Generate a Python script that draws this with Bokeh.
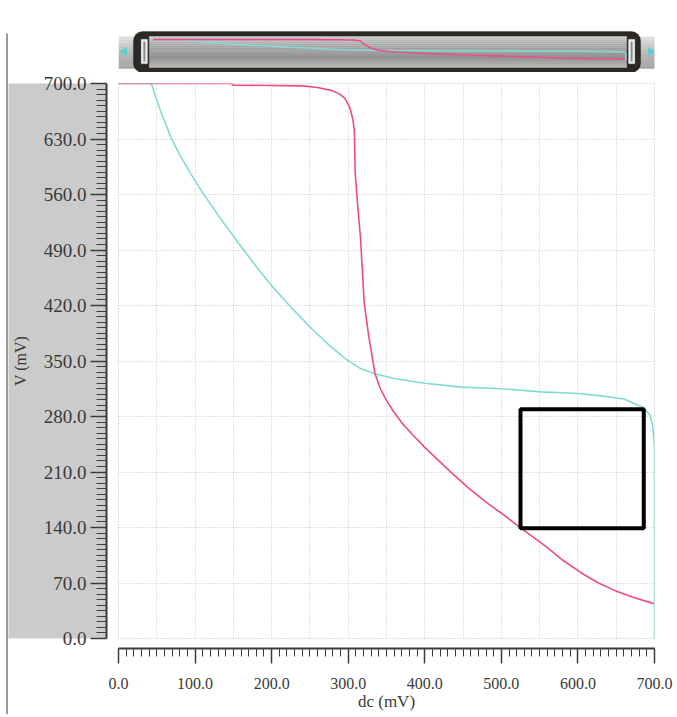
import math
from bokeh.plotting import figure
from bokeh.layouts import column, row
from bokeh.models import (Range1d, LinearAxis, SingleIntervalTicker, FixedTicker,
                          PrintfTickFormatter, BoxAnnotation)
from bokeh.embed import file_html
from bokeh.resources import INLINE

# ---------------- data (mV) ----------------
pink_x = [0, 147, 150, 240, 260, 279, 290, 296, 302, 306, 308, 309, 312, 316, 321, 327,
          335, 342, 350, 360, 370, 385, 400, 413, 435, 457, 480, 500, 526, 561, 580, 604,
          625, 647, 672, 699]
pink_y = [700, 700, 698, 697, 695, 691, 686, 681, 670, 655, 641, 590, 550, 506, 422, 380,
          334, 315, 300, 285, 272, 256, 241, 229, 209, 190, 172, 158, 139, 114, 99, 83,
          71, 61, 52, 44]

cyan_x = [0, 43, 48, 55, 62, 68, 80, 95, 110, 130, 149, 162, 180, 201, 227, 253, 275, 296,
          315, 335, 360, 400, 448, 500, 552, 600, 630, 660, 686, 694, 697, 699, 700, 700]
cyan_y = [700, 700, 685, 665, 648, 633, 610, 585, 562, 534, 509, 492, 469, 444, 416, 390,
          370, 353, 341, 334, 328, 322, 317, 315, 311, 309, 306, 302, 291, 282, 271, 255, 241, 0]

box_left = [525]
box_right = [686]
box_bottom = [139]
box_top = [289]

x_label = "dc (mV)"
y_label = "V (mV)"

PINK = "#ef4a8c"
CYAN = "#80dcd3"
GRAY = "#cbcbcb"
TXT = "#3a3a3a"
FONT = "Liberation Serif"

NAV_H = 72
MAIN_H = 642

# ---------------- left border strip ----------------
strip = figure(width=8, height=NAV_H + MAIN_H, x_range=Range1d(0, 8),
               y_range=Range1d(NAV_H + MAIN_H, 0),
               x_axis_location=None, y_axis_location=None, toolbar_location=None,
               output_backend="svg", min_border=0)
strip.grid.visible = False
strip.outline_line_color = None
strip.quad(left=[5.5], right=[7.5], top=[33], bottom=[NAV_H + MAIN_H],
           fill_color="#9a9a9a", line_color=None)

# ---------------- navigator ----------------
# its frame lines up with the main frame (115..654 px of the page)
nav = figure(width=669, height=NAV_H, x_range=Range1d(115, 654), y_range=Range1d(0, NAV_H),
             x_axis_location=None, y_axis_location=None, toolbar_location=None,
             output_backend="svg", min_border=0)
nav.grid.visible = False
nav.outline_line_color = None


def T(t):
    return NAV_H - t


def hexmix(c1, c2, f):
    a = [int(c1[i:i + 2], 16) for i in (1, 3, 5)]
    b = [int(c2[i:i + 2], 16) for i in (1, 3, 5)]
    return "#%02x%02x%02x" % tuple(round(a[k] + (b[k] - a[k]) * f) for k in range(3))


def pick(stops, f):
    for j in range(len(stops) - 1):
        p0, c0 = stops[j]
        p1, c1 = stops[j + 1]
        if p0 <= f <= p1:
            return hexmix(c0, c1, (f - p0) / (p1 - p0))
    return stops[-1][1]


def gradient(left, right, t0, t1, stops, n=16, annot=False):
    h = (t1 - t0) / n
    for i in range(n):
        col = pick(stops, (i + 0.5) / n)
        if annot:
            nav.add_layout(BoxAnnotation(left=left, right=right, top=T(t0 + i * h),
                                         bottom=T(t0 + (i + 1) * h) - 0.3,
                                         fill_color=col, fill_alpha=1, line_color=None,
                                         level="underlay"))
        else:
            nav.quad(left=[left], right=[right], top=[T(t0 + i * h)],
                     bottom=[T(t0 + (i + 1) * h)], fill_color=col, line_color=col,
                     line_width=0.5)


# outer light band (under the dark bar)
gradient(115, 660, 36, 68, [(0, "#e2e2e2"), (0.5, "#bababa"), (1, "#a4a4a4")], n=10, annot=True)
# dark rounded bar
nav.add_layout(BoxAnnotation(left=130, right=640, bottom=T(72), top=T(31),
                             fill_color="#2c2823", fill_alpha=1, line_color="#1e1b18",
                             border_radius=9, level="underlay"))
# inner cylinder
gradient(146, 626, 36, 67, [(0, "#d2d2d2"), (0.3, "#b4b4b4"), (0.65, "#939393"), (1, "#bdbdbd")])
# handles
for l, r in ((137, 145), (627, 635)):
    nav.quad(left=[l], right=[r], top=[T(38)], bottom=[T(64)], fill_color="#eeeeee",
             line_color="#333333", line_width=1.5)
    nav.quad(left=[l + 3], right=[r - 3], top=[T(41)], bottom=[T(61)], fill_color="#8a8a8a",
             line_color=None)
nav.scatter(x=[121], y=[T(51)], marker="triangle", angle=math.pi / 2, size=9,
            fill_color="#5fcfcf", line_color=None)
nav.scatter(x=[650], y=[T(51)], marker="triangle", angle=-math.pi / 2, size=9,
            fill_color="#5fcfcf", line_color=None)
# miniature curves: data 0..700 mV -> x 150..625 px, y 60..39 px from the top
nav.extra_x_ranges = {"mx": Range1d(-51.6, 742.7)}
nav.extra_y_ranges = {"my": Range1d(-400.0, 2000.0)}
nav.line(cyan_x, cyan_y, x_range_name="mx", y_range_name="my", line_color=CYAN, line_width=1.5)
nav.line(pink_x, pink_y, x_range_name="mx", y_range_name="my", line_color=PINK, line_width=1.5)

# ---------------- main plot ----------------
p = figure(width=669, height=MAIN_H, x_range=Range1d(0, 700), y_range=Range1d(0, 700),
           x_axis_location=None, y_axis_location=None, toolbar_location=None,
           output_backend="svg", min_border_left=107, min_border_right=23,
           min_border_top=11, min_border_bottom=76)
p.background_fill_color = "white"
p.border_fill_color = "white"
p.outline_line_color = "#bdbdbd"
p.outline_line_dash = "1 2"
p.xgrid.ticker = SingleIntervalTicker(interval=50)
p.ygrid.ticker = SingleIntervalTicker(interval=70)
p.grid.grid_line_color = "#c4c4c4"
p.grid.grid_line_dash = "1 2"
p.grid.grid_line_width = 1


def spacer(size):
    # an empty band between the frame and a detached axis
    return LinearAxis(ticker=FixedTicker(ticks=[350]), major_label_overrides={350: ""},
                      axis_line_color=None, major_tick_in=0, major_tick_out=size,
                      major_tick_line_color="white", minor_tick_in=0, minor_tick_out=0,
                      major_label_standoff=0)


xax = LinearAxis(ticker=SingleIntervalTicker(interval=100, num_minor_ticks=10),
                 formatter=PrintfTickFormatter(format="%.1f"), axis_label=x_label,
                 axis_line_color="#3c3c3c", axis_line_width=2,
                 major_tick_in=0, major_tick_out=15, minor_tick_in=0, minor_tick_out=8,
                 major_tick_line_color="#3c3c3c", minor_tick_line_color="#3c3c3c",
                 major_tick_line_width=1.5, minor_tick_line_width=1,
                 major_label_standoff=14, major_label_text_font=FONT,
                 major_label_text_font_size="16px", major_label_text_color=TXT,
                 axis_label_text_font=FONT, axis_label_text_font_size="17px",
                 axis_label_text_font_style="normal", axis_label_standoff=0,
                 axis_label_text_color=TXT)
p.add_layout(spacer(10), "below")
p.add_layout(xax, "below")

yax = LinearAxis(ticker=SingleIntervalTicker(interval=70, num_minor_ticks=10),
                 formatter=PrintfTickFormatter(format="%.1f"), axis_label=y_label,
                 axis_line_color="#3c3c3c", axis_line_width=2,
                 major_tick_in=0, major_tick_out=16, minor_tick_in=0, minor_tick_out=10,
                 major_tick_line_color="#3c3c3c", minor_tick_line_color="#3c3c3c",
                 major_tick_line_width=1.5, minor_tick_line_width=1,
                 major_label_standoff=4, major_label_text_font=FONT,
                 major_label_text_font_size="19px", major_label_text_color=TXT,
                 axis_label_text_font=FONT, axis_label_text_font_size="16px",
                 axis_label_text_font_style="normal", axis_label_standoff=12,
                 axis_label_text_color=TXT, background_fill_color=GRAY)
p.add_layout(spacer(12), "left")
p.add_layout(yax, "left")

p.line(cyan_x, cyan_y, line_color=CYAN, line_width=1.6)
p.line(pink_x, pink_y, line_color=PINK, line_width=1.6)
p.quad(left=box_left, right=box_right, bottom=box_bottom, top=box_top,
       fill_alpha=0, line_color="black", line_width=4)

# ---------------- bottom teal strip ----------------
bot = figure(width=677, height=3, x_range=Range1d(0, 1), y_range=Range1d(0, 1),
             x_axis_location=None, y_axis_location=None, toolbar_location=None,
             output_backend="svg", min_border=0)
bot.grid.visible = False
bot.outline_line_color = None
bot.background_fill_color = "#2f7d78"
bot.border_fill_color = "#2f7d78"

layout = column(row(strip, column(nav, p, spacing=0), spacing=0), bot, spacing=0)

open("out.html", "w").write(file_html(layout, INLINE))
